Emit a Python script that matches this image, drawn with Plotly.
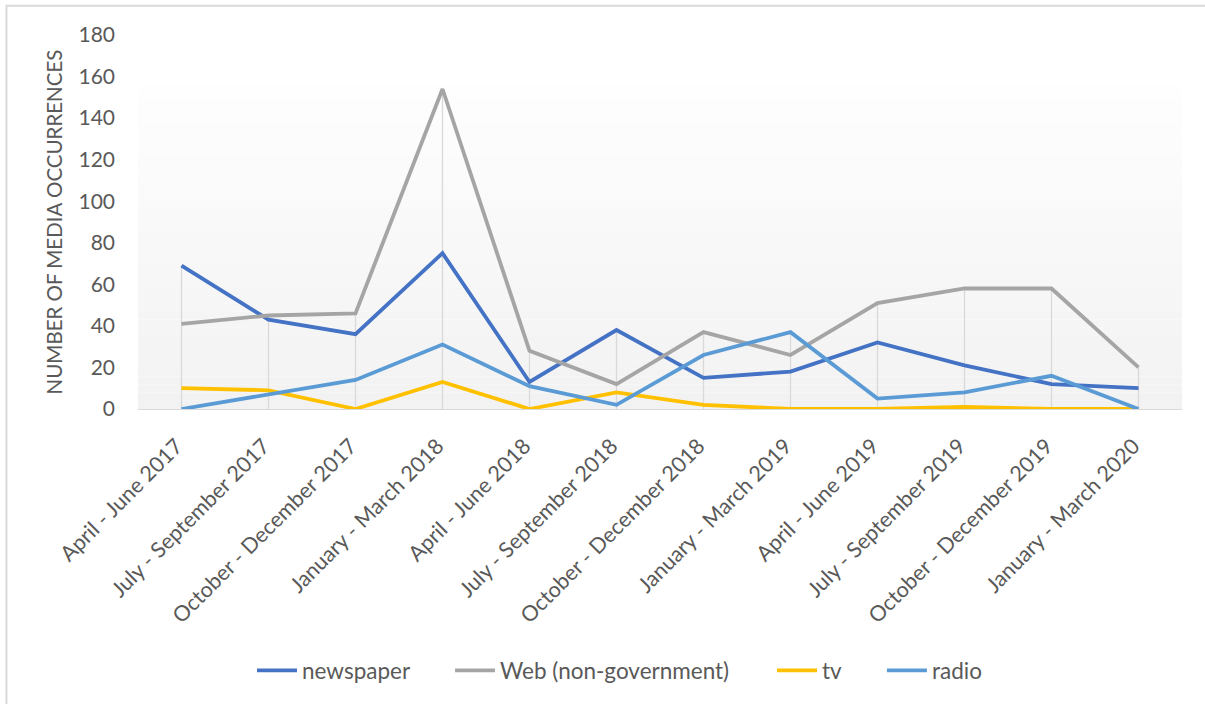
import plotly.graph_objects as go

categories = ["April - June 2017", "July - September 2017", "October - December 2017",
              "January - March 2018", "April - June 2018", "July - September 2018",
              "October - December 2018", "January - March 2019", "April - June 2019",
              "July - September 2019", "October - December 2019", "January - March 2020"]
newspaper = [69, 43, 36, 75, 13, 38, 15, 18, 32, 21, 12, 10]
web = [41, 45, 46, 154, 28, 12, 37, 26, 51, 58, 58, 20]
tv = [10, 9, 0, 13, 0, 8, 2, 0, 0, 1, 0, 0]
radio = [0, 7, 14, 31, 11, 2, 26, 37, 5, 8, 16, 0]

series = [("newspaper", newspaper, "#4472C4"),
          ("Web (non-government)", web, "#A5A5A5"),
          ("tv", tv, "#FFC000"),
          ("radio", radio, "#5B9BD5")]

FONT = "Lato"
TXT = "#595959"

fig = go.Figure()

# Drop lines from highest value to axis
dx, dy = [], []
for i, c in enumerate(categories):
    m = max(s[1][i] for s in series)
    dx += [c, c, None]
    dy += [0, m, None]
fig.add_trace(go.Scatter(x=dx, y=dy, mode="lines", line=dict(color="#D9D9D9", width=1.3),
                         showlegend=False, hoverinfo="skip"))

legend_names = ["legend", "legend2", "legend3", "legend4"]
legend_x = [0.1092, 0.2989, 0.6073, 0.7126]
for (name, vals, col), lg in zip(series, legend_names):
    fig.add_trace(go.Scatter(x=categories, y=vals, mode="lines", name=name, legend=lg,
                             line=dict(color=col, width=3.8)))

# gradient background of plot area
shapes = []
n = 40
top_val = 156.5
for k in range(n):
    y0 = top_val * k / n
    y1 = top_val * (k + 1) / n
    t = k / (n - 1)
    c = int(round(242 + (254 - 242) * t))
    shapes.append(dict(type="rect", xref="paper", yref="y", x0=0, x1=1, y0=y0, y1=y1,
                       fillcolor=f"rgb({c},{c},{c})", line=dict(width=0), layer="below"))
# outer border (top and left visible)
shapes.append(dict(type="rect", xref="paper", yref="paper", x0=-0.126, x1=1.2,
                   y0=-1.2, y1=1.078, line=dict(color="#D9D9D9", width=2),
                   fillcolor="rgba(0,0,0,0)", layer="below"))

legend_common = dict(orientation="h", y=-0.70, yanchor="middle", xanchor="left",
                     font=dict(size=22.5, color=TXT, family=FONT), itemwidth=40,
                     bgcolor="rgba(0,0,0,0)")
layout_legends = {}
for lg, lx in zip(legend_names, legend_x):
    layout_legends[lg] = dict(legend_common, x=lx)

fig.update_layout(
    width=1205, height=704,
    margin=dict(l=138, r=23, t=34.7, b=295.3),
    paper_bgcolor="white", plot_bgcolor="white",
    font=dict(family=FONT, color=TXT, size=19),
    shapes=shapes,
    showlegend=True,
    hovermode=False,
    **layout_legends,
)
fig.update_xaxes(type="category", tickangle=-45, showgrid=False, showline=True,
                 linecolor="#D9D9D9", linewidth=1.3, ticks="", tickfont=dict(size=21.5, color=TXT),
                 range=[-0.5, 11.5], zeroline=False, automargin=False,
                 ticklabelstandoff=15, ticklabelshift=-5)
fig.update_yaxes(range=[0, 180], dtick=20, showgrid=False, zeroline=False, showline=False,
                 tickfont=dict(size=21, color=TXT), ticklabelstandoff=22, automargin=False,
                 title=dict(text="NUMBER OF MEDIA OCCURRENCES", font=dict(size=20.5, color=TXT),
                            standoff=10))

fig.write_html("out.html", config={"displayModeBar": False},
               post_script="document.body.style.margin='0';document.body.style.overflow='hidden';")
